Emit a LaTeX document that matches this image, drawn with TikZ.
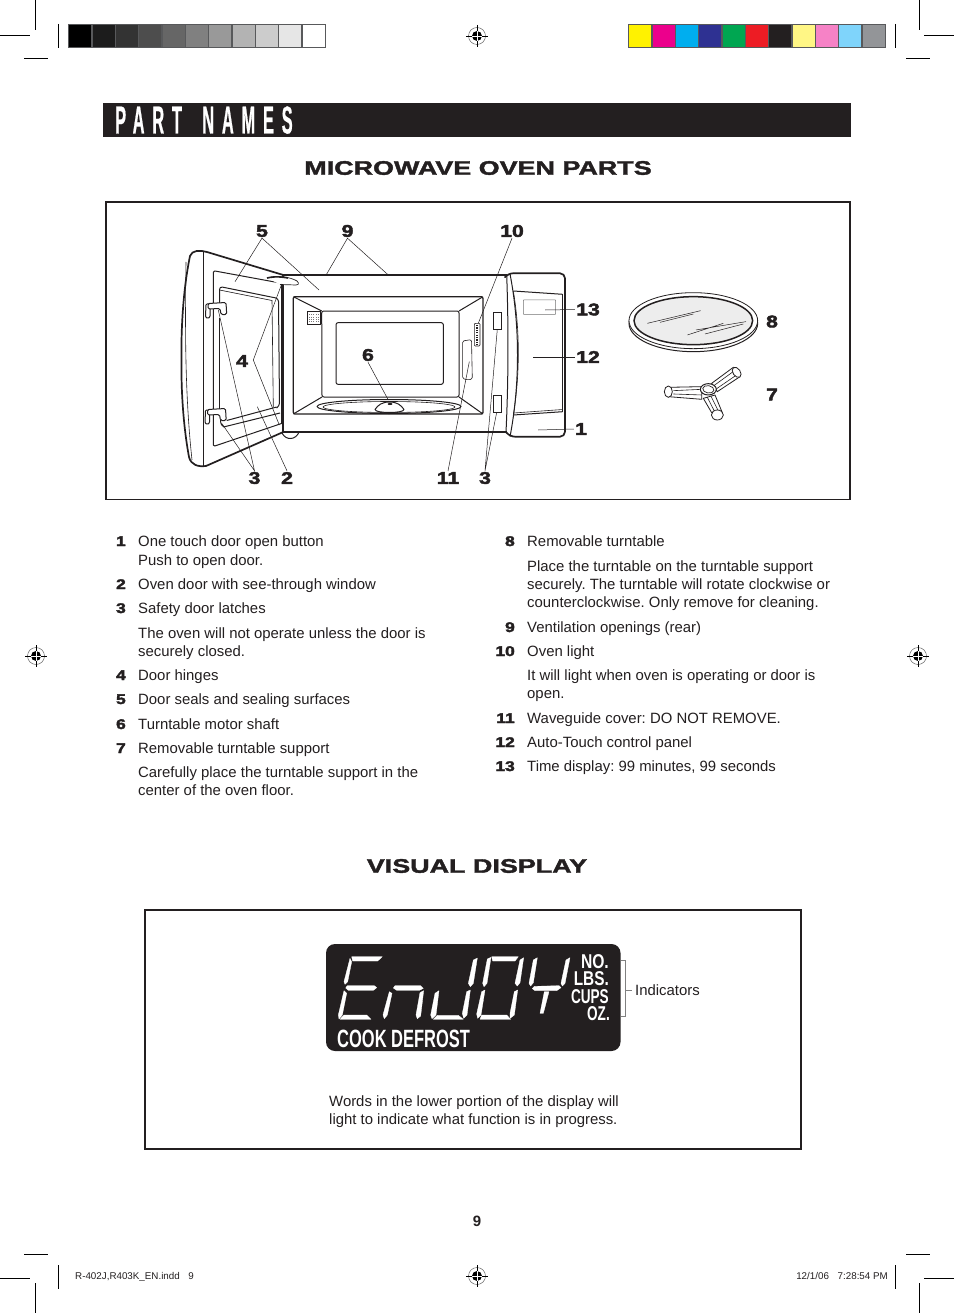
\documentclass[tikz,border=0pt]{standalone}
\usepackage{fontspec}
\setmainfont{Liberation Sans}
\newfontfamily\widefont[FakeStretch=1.38,FakeBold=2]{Liberation Sans}
\newfontfamily\numfont[FakeStretch=1.25,FakeBold=2.5]{Liberation Sans}
\newfontfamily\condfont[FakeStretch=.68]{Liberation Sans}
\newfontfamily\titlefont[FakeStretch=.42,LetterSpace=20,FakeBold=.5]{Liberation Sans}
\definecolor{ink}{HTML}{231F20}
\definecolor{barborder}{HTML}{58595B}
\tikzset{
  crop/.style={line width=.9pt,black},
  body/.style={inner sep=0,anchor=base west,font=\frenchspacing\fontsize{14.9}{17}\selectfont,text=ink},
  listnum/.style={inner sep=0,anchor=base east,font=\numfont\bfseries\fontsize{14}{16}\selectfont,text=ink},
  callout/.style={inner sep=1pt,font=\numfont\bfseries\fontsize{17}{18}\selectfont,text=ink},
  head/.style={inner sep=0,font=\widefont\bfseries\fontsize{19.5}{24}\selectfont,text=ink},
  leader/.style={line width=.5pt,draw=ink},
  thinl/.style={line width=.6pt,draw=ink},
  medl/.style={line width=1pt,draw=ink,line join=round},
  thickl/.style={line width=1.7pt,draw=ink,line join=round},
  seg/.style={fill=white,draw=white,line width=.3pt,line join=round},
  indic/.style={inner sep=0,anchor=base east,text=white,font=\condfont\bfseries\fontsize{20}{20}\selectfont},
  foot/.style={inner sep=0,font=\fontsize{9.8}{11}\selectfont,text=ink},
  framebox/.style={line width=1.5pt,draw=ink},
}
\newcommand{\regmark}[1]{%
  \begin{scope}[shift={#1}]
    \draw[line width=.4pt,black!70] (0,0) circle (8.5);
    \fill[black] (0,0) circle (5);
    \draw[line width=.8pt,black] (-11,0)--(-5,0) (5,0)--(11,0) (0,-11)--(0,-5) (0,5)--(0,11);
    \draw[line width=.5pt,white] (-5,0)--(5,0) (0,-5)--(0,5);
  \end{scope}}
\begin{document}
\begin{tikzpicture}[x=1pt,y=-1pt]
\useasboundingbox[fill=white] (0,0) rectangle (954,1313);
% crop marks
\draw[crop] (35,0)--(35,30) (0,35)--(30,35) (24,58)--(48,58) (58,24)--(58,48);
\draw[crop] (919,0)--(919,30) (924,35)--(954,35) (906,58)--(930,58) (895,24)--(895,48);
\draw[crop] (35,1283)--(35,1313) (0,1278)--(30,1278) (24,1254)--(48,1254) (58,1265)--(58,1289);
\draw[crop] (919,1283)--(919,1313) (924,1278)--(954,1278) (906,1254)--(930,1254) (895,1265)--(895,1289);
% bars
\foreach \c [count=\i from 0] in {000000,1C1C1C,333333,4D4D4D,666666,808080,999999,B3B3B3,CCCCCC,E6E6E6,FFFFFF}{
  \definecolor{cellc}{HTML}{\c}
  \filldraw[fill=cellc,draw=barborder,line width=1.4pt] ({68.7+\i*23.33},24.7) rectangle ({68.7+(\i+1)*23.33},47.3);
}
\foreach \c [count=\i from 0] in {FFF200,EC008C,00AEEF,2E3192,00A651,ED1C24,231F20,FFF685,F682C6,7FD4FB,939598}{
  \definecolor{cellc}{HTML}{\c}
  \filldraw[fill=cellc,draw=barborder,line width=1.4pt] ({628.7+\i*23.33},24.7) rectangle ({628.7+(\i+1)*23.33},47.3);
}
\regmark{(477,36)}\regmark{(36,656)}\regmark{(918,656)}\regmark{(477,1276)}
% title
\fill[ink] (103,103) rectangle (851,137);
\node[inner sep=0,anchor=base west,text=white,font=\titlefont\bfseries\fontsize{39}{40}\selectfont] (title) at (115,133.5) {PART\hspace{8pt} NAMES};
\node[head] (h1) at (478,168) {MICROWAVE OVEN PARTS};
\node[head] (h2) at (477,866) {VISUAL DISPLAY};
% frames
\draw[framebox] (106,202) rectangle (850,499.5);
\draw[framebox] (145,910) rectangle (801,1149);
% door
\draw[thickl] (283.3,275) -- (207,252) .. controls (200,250) and (192,250) .. (190,256) .. controls (183,290) and (181,330) .. (181.5,360) .. controls (181,395) and (184,430) .. (189,457) .. controls (191,465) and (198,467) .. (206,466) -- (283.3,432);
\draw[thinl] (186,262) .. controls (185,330) and (185,395) .. (192,460);
\draw[medl] (203.3,252)--(203.3,466);
\draw[medl,rounded corners=1.5pt] (283,283.5)--(213.3,270.7)--(213.3,446.5)--(283,423);
\draw[medl,rounded corners=3pt] (219.5,309)--(219.5,286.5)--(278.5,298.5)--(279.5,406)--(276.5,408);
\draw[thinl] (219.5,290)--(272,300.5)--(273.3,407);
\draw[thinl] (219.5,318)--(219.5,410);
\draw[medl] (226.7,420.5)--(276.7,407);
\draw[medl] (223.5,427)--(280,413);
\draw[medl] (281,283)--(281,423);
\draw[thickl] (283.3,275)--(283.3,432);
% hinge slot
\filldraw[fill=white,line width=.7pt,draw=ink] (267,278) .. controls (278,275) and (290,277) .. (297,281) .. controls (300,284) and (298,285) .. (296,285) -- (280,284.5);
\draw[line width=1.6pt,draw=ink] (267,278) .. controls (276,276) and (282,277) .. (288,278);
% latches
\begin{scope}[shift={(0,0)}]
\filldraw[fill=white,medl,rounded corners=1pt] (206,304)--(205.5,317)--(207.7,318.5)--(210,317)--(210,304)--cycle;
\filldraw[fill=white,medl,rounded corners=1.5pt] (208,303.5)--(226,302.5)--(226.7,314.5)--(221,314.5)--(220,308.5)--(208,309)--cycle;
\end{scope}
\begin{scope}[shift={(-.5,106)}]
\filldraw[fill=white,medl,rounded corners=1pt] (206,304)--(205.5,317)--(207.7,318.5)--(210,317)--(210,304)--cycle;
\filldraw[fill=white,medl,rounded corners=1.5pt] (208,303.5)--(226,302.5)--(226.7,314.5)--(221,314.5)--(220,308.5)--(208,309)--cycle;
\end{scope}
\draw[medl] (220.5,420) .. controls (220.5,424) and (222,426) .. (224,427);
\draw[medl] (282,433) .. controls (286,441) and (296,440) .. (299,432);
% body
\draw[line width=1.2pt,draw=ink] (283,275)--(507,275);
\draw[line width=1.9pt,draw=ink] (283,432)--(507,432);
\draw[medl,line width=1.3pt,rounded corners=1.5pt] (293.3,296.7)--(483,296.7)--(483,414)--(293.3,414)--cycle;
\draw[medl,rounded corners=2pt] (321.7,311)--(322,397)--(459,397)--(459,311)--cycle;
\draw[medl] (293.3,296.7)--(321.7,311) (483,296.7)--(459,311) (293.3,414)--(322,397) (483,414)--(459,397);
\draw[medl,rounded corners=2pt] (336,322.7) rectangle (443.3,384.3);
% vents
\draw[thinl,fill=white] (307.3,311.7) rectangle (320,324);
\fill[ink,opacity=.6] (308,312.5) rectangle (319.3,323.3);
\foreach \a in {1,2.8,...,11}{\draw[line width=.45pt,white] ({307.5+\a},312.5)--({307.5+\a},323.3) (308,{312+\a})--(319.3,{312+\a});}
\draw[thinl,rounded corners=1pt,fill=white] (474.3,323.3) rectangle (480,346);
\draw[line width=2.3pt,draw=ink,dash pattern=on 1.2pt off 1.2pt] (477.1,325)--(477.1,344.5);
% waveguide and latch slots
\draw[thinl,rounded corners=1.5pt] (462.6,341)--(471.5,339.6)--(472.3,379)--(468,380)--(462.6,378.5)--cycle;
\draw[thinl] (493.3,312.3) rectangle (501.7,329.3);
\draw[thinl] (493.3,395) rectangle (501.7,412.3);
% turntable in cavity
\draw[medl] (389,406.5) ellipse [x radius=72,y radius=7];
\draw[thinl] (389,407) ellipse [x radius=66,y radius=5.5];
\filldraw[fill=white,medl] (375,409.5) .. controls (378,405) and (382,402) .. (389.5,402) .. controls (397,402) and (401,405) .. (404,409.5) .. controls (404,413.5) and (375,413.5) .. (375,409.5) -- cycle;
\fill[ink] (390,404) ellipse [x radius=2.5,y radius=1];
% control panel
\draw[thickl,rounded corners=5pt] (506.7,275)--(508,273.3)--(565,273.3)--(565,436.7)--(510,436.7)--(506,432);
\draw[medl] (506.7,275) .. controls (508.5,325) and (508.5,380) .. (506,432);
\draw[medl] (510,274) .. controls (520,325) and (520,385) .. (510,436.7);
\draw[medl] (513.3,291)--(562.7,294.3) (513.3,415)--(562.7,411.7);
\draw[thinl] (513.3,291) .. controls (520,330) and (520,375) .. (513.3,415);
\draw[thinl] (562.7,294.3)--(562.7,411.7);
\draw[thinl] (513.5,413)--(562.7,409.5);
\draw[line width=.5pt,black!55,rounded corners=.5pt] (523.3,300) rectangle (555.7,314.3);
% leader end points
\coordinate (e5a) at (235,281.7);
\coordinate (e5b) at (319,290);
\coordinate (e9a) at (325.7,275.7);
\coordinate (e9b) at (388.3,275);
\coordinate (e4v) at (253.3,360);
\coordinate (e4a) at (281.7,284);
\coordinate (e4b) at (279.3,425);
\coordinate (e2) at (257.3,406.7);
\coordinate (e6) at (388.3,400);
\coordinate (e3a) at (218.3,310);
\coordinate (e3b) at (221.7,423.3);
\coordinate (e11) at (469.3,361.7);
\coordinate (e10) at (478.3,323.3);
\coordinate (e3c) at (497.3,329.3);
\coordinate (e3d) at (496.7,412.3);
\coordinate (e13) at (545,310);
\coordinate (e12) at (533,357);
\coordinate (e1) at (538,430);
% callouts
\node[callout] (n5) at (262,231) {5};
\node[callout] (n9) at (347.5,231) {9};
\node[callout] (n10) at (512,231) {10};
\node[callout] (n13) at (588,309.5) {13};
\node[callout] (n12) at (588,357) {12};
\node[callout] (n1) at (581,429) {1};
\node[callout] (n4) at (242,361) {4};
\node[callout] (n6) at (368,355) {6};
\node[callout] (n3a) at (254.5,478) {3};
\node[callout] (n2) at (287,478) {2};
\node[callout] (n11) at (448,478) {11};
\node[callout] (n3b) at (485,478) {3};
\node[callout] (n8) at (772,321.5) {8};
\node[callout] (n7) at (772,394.5) {7};
\draw[leader] (e5a)--(n5.south)--(e5b);
\draw[leader] (e9a)--(n9.south)--(e9b);
\draw[leader] (e4a)--(e4v)--(e4b);
\draw[leader] (n2.north)--(e2);
\draw[leader] (n6.south)--(e6);
\draw[leader] (e3a)--(n3a.north)--(e3b);
\draw[leader] (n11.north)--(e11);
\draw[leader] (n10.south)--(e10);
\draw[leader] (e3c)--(n3b.north)--(e3d);
\draw[leader] (n13.west)--(e13);
\draw[leader] (n12.west)--(e12);
\draw[leader] (n1.west)--(e1);
% turntable
\begin{scope}[shift={(610,280)},x=.3333pt,y=-.3333pt]
\draw[line width=1pt,draw=ink,fill=white] (250,130) ellipse [x radius=193,y radius=85];
\draw[line width=.8pt,draw=ink,fill=white] (250,122) ellipse [x radius=193,y radius=84];
\draw[line width=1.5pt,draw=ink,fill=black!7] (250,122) ellipse [x radius=178,y radius=72];
\draw[line width=.5pt,draw=ink] (112,130)--(272,92) (150,127)--(250,102) (232,165)--(340,130) (258,150)--(408,125) (285,162)--(400,132);
% support
\filldraw[fill=white,line width=.8pt,draw=ink] (275,320)--(175,322)--(175,350)--(275,358)--cycle;
\draw[line width=.6pt,draw=ink] (190,332)--(275,328) (190,342)--(275,345);
\filldraw[fill=white,line width=.8pt,draw=ink] (175,335) ellipse [x radius=12,y radius=17];
\filldraw[fill=white,line width=.8pt,draw=ink] (305,310)--(370,262)--(390,290)--(322,335)--cycle;
\draw[line width=.6pt,draw=ink] (313,316)--(375,271) (320,326)--(384,282);
\filldraw[fill=white,line width=.8pt,draw=ink,rotate around={35:(380,277)}] (380,277) ellipse [x radius=11,y radius=17];
\filldraw[fill=white,line width=.8pt,draw=ink] (280,355)--(305,398)--(337,398)--(315,345)--cycle;
\draw[line width=.6pt,draw=ink] (292,352)--(314,395) (303,349)--(326,395);
\filldraw[fill=white,line width=.8pt,draw=ink] (322,405) ellipse [x radius=18,y radius=15];
\filldraw[fill=white,line width=1pt,draw=ink] (295,328) ellipse [x radius=24,y radius=17];
\draw[line width=.7pt,draw=ink,rotate around={-10:(295,328)}] (295,328) ellipse [x radius=17,y radius=11];
\end{scope}
% body text
\foreach \y/\t in {541/One touch door open button,560/Push to open door.,584/Oven door with see-through window,608/Safety door latches,633/The oven will not operate unless the door is,651/securely closed.,675/Door hinges,699/Door seals and sealing surfaces,724/Turntable motor shaft,748/Removable turntable support,772/Carefully place the turntable support in the,790/center of the oven floor.}{
  \node[body] (l\y) at (138,\y+5) {\t};
}
\foreach \y/\t in {541/Removable turntable,566/Place the turntable on the turntable support,584/securely. The turntable will rotate clockwise or,602/counterclockwise. Only remove for cleaning.,627/Ventilation openings (rear),651/Oven light,675/It will light when oven is operating or door is,693/open.,718/Waveguide cover: DO NOT REMOVE.,742/Auto-Touch control panel,766/{Time display: 99 minutes, 99 seconds}}{
  \node[body] (r\y) at (527,\y+5) {\t};
}
\foreach \y/\n in {541/1,584/2,608/3,675/4,699/5,724/6,748/7}{
  \node[listnum] (ln\n) at (126,\y+5) {\n};
}
\foreach \y/\n in {541/8,627/9,651/10,718/11,742/12,766/13}{
  \node[listnum] (rn\n) at (515,\y+5) {\n};
}
% display
\fill[ink,rounded corners=9pt] (326,944) rectangle (620.5,1051);
\begin{scope}[shift={(330,950)},x=.3333pt,y=-.3333pt]
\filldraw[seg] (65,20)--(157,20)--(143,33)--(68,33)--cycle;
\filldraw[seg] (60,25)--(65,35)--(53,95)--(45,103)--(42,95)--cycle;
\filldraw[seg] (52,107)--(133,107)--(140,113)--(130,121)--(55,121)--(47,114)--cycle;
\filldraw[seg] (42,122)--(50,130)--(37,195)--(27,207)--(25,195)--cycle;
\filldraw[seg] (42,195)--(110,195)--(123,208)--(30,208)--cycle;
\filldraw[seg] (195,107)--(272,107)--(280,115)--(268,121)--(200,121)--(190,114)--cycle;
\filldraw[seg] (178,125)--(186,130)--(172,195)--(163,206)--(159,195)--cycle;
\filldraw[seg] (270,128)--(281,122)--(272,198)--(262,206)--(258,195)--cycle;
\filldraw[seg] (315,130)--(327,122)--(318,195)--(306,206)--(302,195)--cycle;
\filldraw[seg] (322,196)--(385,196)--(400,208)--(310,208)--cycle;
\end{scope}
\begin{scope}[shift={(455,950)},x=.3333pt,y=-.3333pt]
\filldraw[seg] (35,125)--(46,120)--(36,195)--(26,205)--(22,190)--cycle;
\filldraw[seg] (55,30)--(67,24)--(55,100)--(46,110)--(40,100)--cycle;
\filldraw[seg] (97,27)--(108,22)--(96,100)--(87,110)--(83,100)--cycle;
\filldraw[seg] (80,125)--(90,120)--(78,195)--(68,205)--(65,192)--cycle;
\filldraw[seg] (110,20)--(190,20)--(180,33)--(113,33)--cycle;
\filldraw[seg] (195,30)--(206,23)--(195,98)--(187,108)--(180,100)--cycle;
\filldraw[seg] (178,125)--(188,120)--(178,195)--(165,205)--(165,190)--cycle;
\filldraw[seg] (80,195)--(155,195)--(167,208)--(75,208)--cycle;
\filldraw[seg] (235,30)--(247,23)--(235,98)--(227,108)--(222,100)--cycle;
\filldraw[seg] (238,109)--(312,107)--(318,113)--(305,122)--(240,122)--(232,116)--cycle;
\filldraw[seg] (333,30)--(345,23)--(330,100)--(322,108)--(318,100)--cycle;
\filldraw[seg] (268,125)--(282,125)--(265,190)--(255,190)--cycle;
\end{scope}
\node[indic] (no) at (609,968.5) {\scalebox{1.15}[1]{NO.}};
\node[indic] (lbs) at (609,985.5) {\scalebox{1.13}[1]{LBS.}};
\node[indic] (cups) at (609,1003) {CUPS};
\node[indic] (oz) at (610,1020.5) {OZ.};
\node[inner sep=0,anchor=base west,text=white,font=\condfont\bfseries\fontsize{25}{25}\selectfont] (cook) at (337,1047) {\scalebox{.97}[1]{COOK DEFROST}};
\coordinate (bt) at (625.7,960);
\coordinate (bb) at (625.7,1016.3);
\coordinate (btl) at (620.5,960);
\coordinate (bbl) at (620.5,1016.3);
\coordinate (bm) at (625.7,990);
\coordinate (bmr) at (631.7,990);
\draw[line width=.6pt,black!50] (btl)--(bt)--(bb)--(bbl);
\draw[line width=.6pt,black!50] (bm)--(bmr);
\node[body] (ind) at (635,995) {Indicators};
\node[body] (w1) at (329,1106) {Words in the lower portion of the display will};
\node[body] (w2) at (329,1124) {light to indicate what function is in progress.};
% footer
\node[inner sep=0,font=\bfseries\fontsize{15}{17}\selectfont,text=ink] (pg) at (477,1221) {9};
\node[foot,anchor=base west] (f1) at (75,1279) {R-402J,R403K\_EN.indd\hspace{6pt} 9};
\node[foot,anchor=base east] (f2) at (888,1279) {12/1/06\hspace{6pt} 7:28:54 PM};
\end{tikzpicture}
\end{document}
